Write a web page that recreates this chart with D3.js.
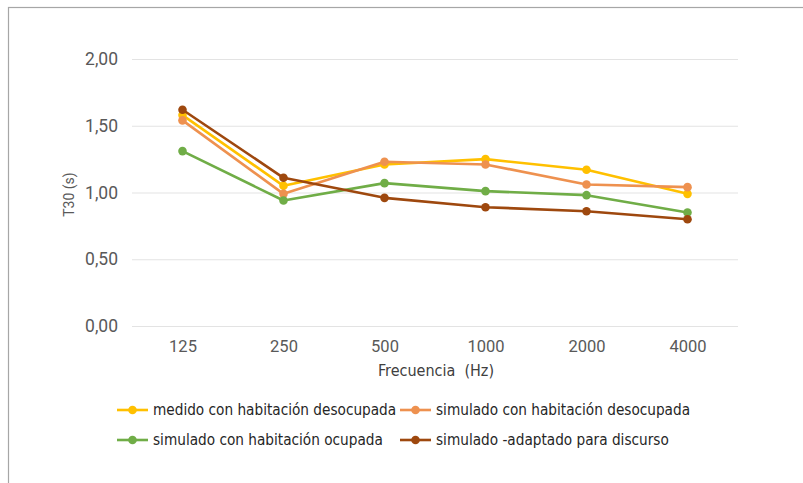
<!DOCTYPE html>
<html>
<head>
<meta charset="utf-8">
<script src="https://cdn.jsdelivr.net/npm/d3@7"></script>
<style>
  body { margin: 0; background: #fff; }
  svg { display: block; }
</style>
</head>
<body>
<svg id="chart" width="803" height="483"></svg>
<script>
// frecuencias (Hz)
var frecuencias = ["125", "250", "500", "1000", "2000", "4000"];
var yTicks = [0, 0.5, 1, 1.5, 2];

var medidoDesocupada   = [1.58, 1.05, 1.21, 1.25, 1.17, 0.99];
var simuladoDesocupada = [1.54, 0.99, 1.23, 1.21, 1.06, 1.04];
var simuladoOcupada    = [1.31, 0.94, 1.07, 1.01, 0.98, 0.85];
var simuladoDiscurso   = [1.62, 1.11, 0.96, 0.89, 0.86, 0.80];

var series = [
  { nombre: "medido con habitación desocupada", valores: medidoDesocupada, color: "#FFC000" },
  { nombre: "simulado con habitación desocupada", valores: simuladoDesocupada, color: "#EE914F" },
  { nombre: "simulado con habitación ocupada", valores: simuladoOcupada, color: "#70AD47" },
  { nombre: "simulado -adaptado para discurso", valores: simuladoDiscurso, color: "#9E480E" }
];

var svg = d3.select("#chart"),
    margin = { top: 59, right: 65, bottom: 157, left: 132 },
    iwidth = +svg.attr("width") - margin.left - margin.right,
    iheight = +svg.attr("height") - margin.top - margin.bottom;

// marco
svg.append("rect")
  .attr("x", 8.5).attr("y", 7.5)
  .attr("width", 900).attr("height", 700)
  .attr("fill", "none")
  .attr("stroke", "#a6a6a6")
  .attr("stroke-width", 1.2);

var g = svg.append("g").attr("transform", "translate(" + margin.left + "," + margin.top + ")");

var x = d3.scalePoint().domain(frecuencias).range([0, iwidth]).padding(0.5);
var y = d3.scaleLinear().domain([0, 2]).range([iheight, 0]);

// rejilla + eje y
var yAxis = g.append("g")
  .call(d3.axisLeft(y).tickValues(yTicks).tickSize(-iwidth).tickPadding(14)
    .tickFormat(function(d) { return d3.format(".2f")(d).replace(".", ","); }));
yAxis.select(".domain").remove();
yAxis.selectAll(".tick line").attr("stroke", "#e3e3e3").attr("stroke-width", 1.2);
yAxis.selectAll(".tick text")
  .attr("fill", "#595959")
  .attr("font-family", "Roboto, Arial, sans-serif")
  .attr("font-size", 17.5);

// eje x
var xAxis = g.append("g")
  .attr("transform", "translate(0," + iheight + ")")
  .call(d3.axisBottom(x).tickSize(0).tickPadding(14));
xAxis.select(".domain").remove();
xAxis.selectAll(".tick text")
  .attr("fill", "#595959")
  .attr("font-family", "Roboto, Arial, sans-serif")
  .attr("font-size", 16.5);

// títulos
g.append("text")
  .attr("x", iwidth / 2 + 1).attr("y", iheight + 50)
  .attr("text-anchor", "middle")
  .attr("fill", "#404040")
  .attr("font-family", "'DejaVu Sans Condensed', sans-serif")
  .attr("font-size", 16)
  .attr("xml:space", "preserve")
  .text("Frecuencia  (Hz)");

g.append("text")
  .attr("transform", "translate(" + (-58) + "," + (iheight / 2 + 2) + ") rotate(-90)")
  .attr("text-anchor", "middle")
  .attr("fill", "#595959")
  .attr("font-family", "Roboto, Arial, sans-serif")
  .attr("font-size", 14)
  .text("T30 (s)");

// líneas
var line = d3.line()
  .x(function(d, i) { return x(frecuencias[i]); })
  .y(function(d) { return y(d); });

var sg = g.selectAll(".serie").data(series).enter().append("g").attr("class", "serie");
sg.append("path")
  .attr("fill", "none")
  .attr("stroke", function(d) { return d.color; })
  .attr("stroke-width", 2.6)
  .attr("stroke-linejoin", "round")
  .attr("d", function(d) { return line(d.valores); });
sg.selectAll("circle")
  .data(function(d) { return d.valores.map(function(v, i) { return { v: v, i: i, color: d.color }; }); })
  .enter().append("circle")
  .attr("cx", function(d) { return x(frecuencias[d.i]); })
  .attr("cy", function(d) { return y(d.v); })
  .attr("r", 4.3)
  .attr("fill", function(d) { return d.color; });

// leyenda
var legendPos = [[117, 410], [400, 410], [117, 440], [400, 440]];
var legend = svg.append("g").selectAll("g").data(series).enter().append("g")
  .attr("transform", function(d, i) { return "translate(" + legendPos[i][0] + "," + legendPos[i][1] + ")"; });
legend.append("line")
  .attr("x1", 0).attr("x2", 31)
  .attr("stroke", function(d) { return d.color; })
  .attr("stroke-width", 2.6);
legend.append("circle")
  .attr("cx", 15.5).attr("r", 4.3)
  .attr("fill", function(d) { return d.color; });
legend.append("text")
  .attr("x", 36).attr("dy", "0.35em")
  .attr("fill", "#262626")
  .attr("font-family", "'DejaVu Sans Condensed', sans-serif")
  .attr("font-size", 15.2)
  .text(function(d) { return d.nombre; });
</script>
</body>
</html>
